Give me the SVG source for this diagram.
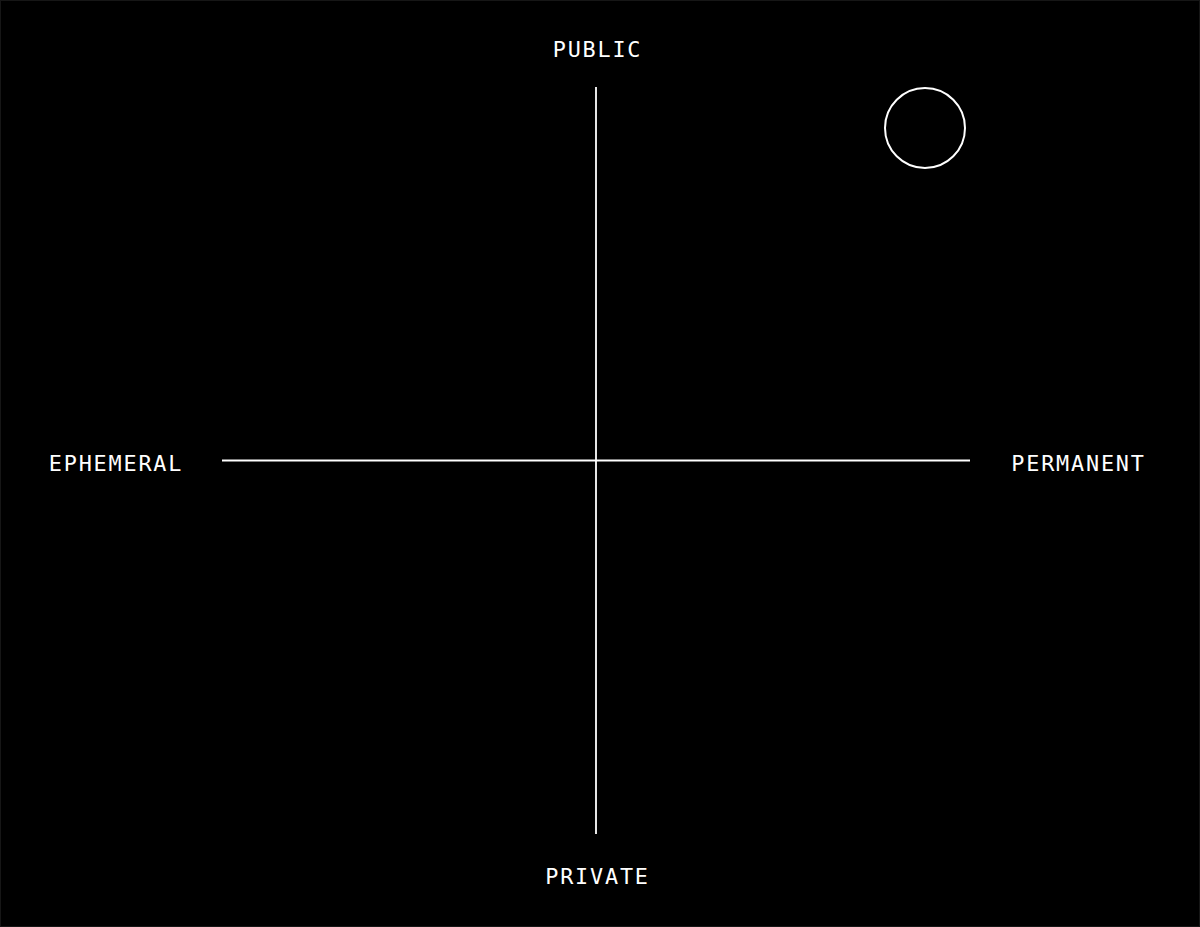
<svg xmlns="http://www.w3.org/2000/svg" width="1200" height="927" viewBox="0 0 1200 927">
<style>
.lbl{font-family:"DejaVu Sans Mono","Liberation Mono",monospace;font-size:21.8px;fill:#ffffff;letter-spacing:1.8px;text-anchor:middle}
.ax{stroke:#ffffff;stroke-width:1.8;fill:none}
</style>
<rect x="0.5" y="0.5" width="1199" height="926" fill="#000000" stroke="#161616" stroke-width="1"/>
<g id="connectors">
<line class="ax" x1="596" y1="87" x2="596" y2="834"/>
<line class="ax" x1="222" y1="460.5" x2="970" y2="460.5"/>
</g>
<g id="public"><text class="lbl" x="597.5" y="57">PUBLIC</text></g>
<g id="private"><text class="lbl" x="597.5" y="884">PRIVATE</text></g>
<g id="ephemeral"><text class="lbl" x="116" y="471">EPHEMERAL</text></g>
<g id="permanent"><text class="lbl" x="1078.5" y="471">PERMANENT</text></g>
<g id="marker"><circle cx="925" cy="128" r="40" fill="none" stroke="#ffffff" stroke-width="2"/></g>
</svg>
